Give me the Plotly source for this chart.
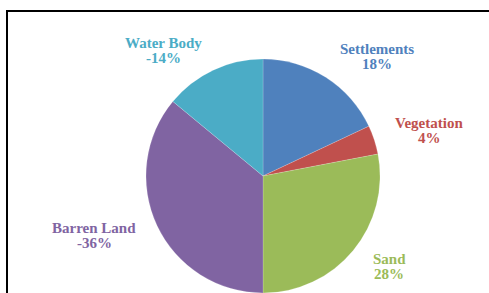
import plotly.graph_objects as go

categories = ["Settlements", "Vegetation", "Sand", "Barren Land", "Water Body"]
values = [18, 4, 28, 36, 14]
value_labels = ["18%", "4%", "28%", "-36%", "-14%"]
colors = ["#4F81BD", "#C0504D", "#9BBB59", "#8064A2", "#4BACC6"]
label_colors = ["#4F81BD", "#C0504D", "#9BBB59", "#8064A2", "#4BACC6"]

# label positions in pixels: (x centre, name line y, value line y)
label_px = [(377, 49, 64), (429, 123, 138), (389, 259, 274), (94, 228, 243), (163, 43, 58)]

W, H = 489, 293
cx, cy, r = 263, 176, 117

fig = go.Figure(go.Pie(
    labels=categories,
    values=values,
    sort=False,
    direction="clockwise",
    rotation=0,
    marker=dict(colors=colors, line=dict(color="rgba(255,255,255,0.35)", width=0.5)),
    textinfo="none",
    hoverinfo="label+percent",
    showlegend=False,
    domain=dict(x=[(cx - r) / W, (cx + r) / W], y=[(H - cy - r) / H, (H - cy + r) / H]),
))

annotations = []
for cat, vl, col, (px, py1, py2) in zip(categories, value_labels, label_colors, label_px):
    for txt, py in ((cat, py1), (vl, py2)):
        annotations.append(dict(
            x=px / W, y=1 - py / H, xref="paper", yref="paper",
            text=f"<b>{txt}</b>",
            showarrow=False, align="center",
            font=dict(family="Liberation Serif", size=15, color=col),
            xanchor="center", yanchor="middle",
        ))

fig.update_layout(
    width=W, height=H,
    margin=dict(l=0, r=0, t=0, b=0),
    paper_bgcolor="white", plot_bgcolor="white",
    annotations=annotations,
    shapes=[dict(type="rect", xref="paper", yref="paper",
                 x0=7 / W, x1=1.02, y0=-0.05, y1=1 - 11 / H,
                 line=dict(color="black", width=2))],
)

fig.write_html("out.html", config={"displayModeBar": False},
               post_script="document.body.style.margin='0';document.body.style.overflow='hidden';")
